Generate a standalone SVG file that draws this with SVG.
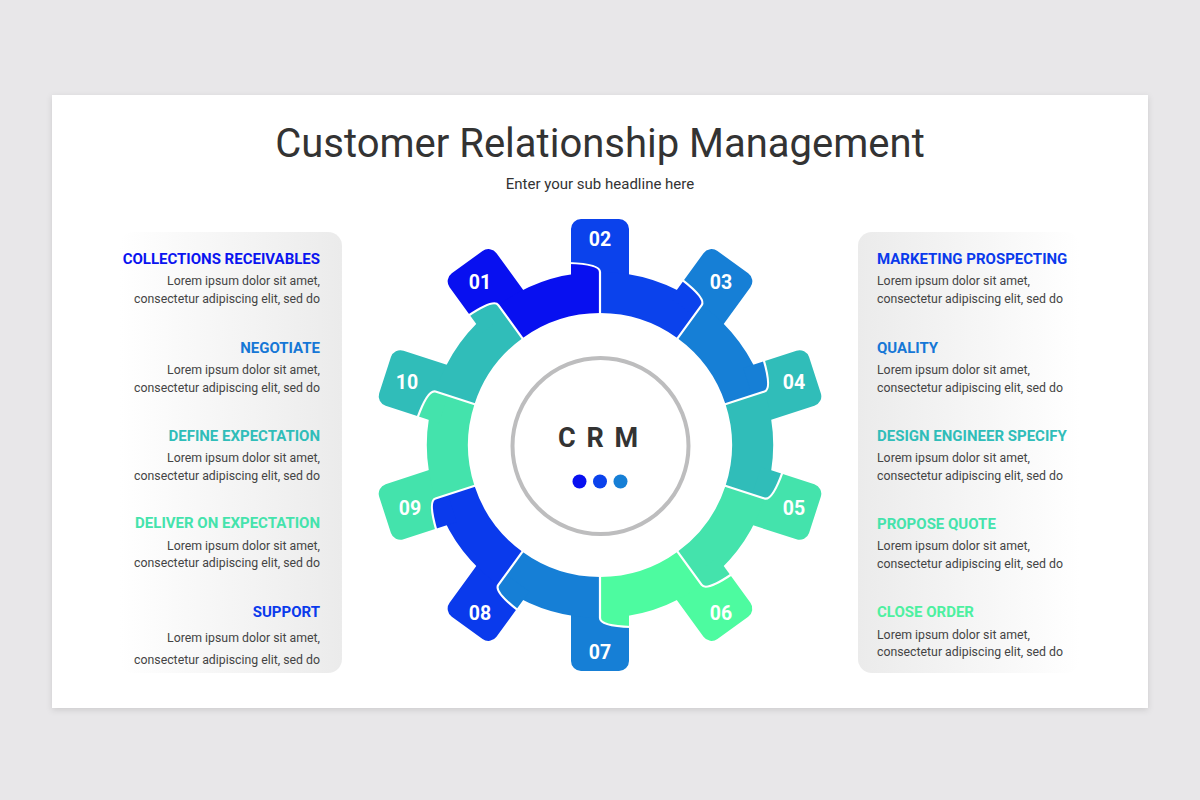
<svg xmlns="http://www.w3.org/2000/svg" xmlns:xlink="http://www.w3.org/1999/xlink" width="1200" height="800" viewBox="0 0 1200 800">
  <defs>
    <filter id="shadow" x="-5%" y="-5%" width="110%" height="115%">
      <feDropShadow dx="0" dy="2" stdDeviation="3" flood-color="#000" flood-opacity="0.12"/>
    </filter>
    <linearGradient id="gradL" x1="0" y1="0" x2="1" y2="0">
      <stop offset="0" stop-color="#ffffff"/>
      <stop offset="1" stop-color="#ebebeb"/>
    </linearGradient>
    <linearGradient id="gradR" x1="0" y1="0" x2="1" y2="0">
      <stop offset="0" stop-color="#ebebeb"/>
      <stop offset="1" stop-color="#ffffff"/>
    </linearGradient>
    <g id="piece">
      <path d="M0,-160 L0,-173 Q0,-181 -29,-182 L-29,-216 A10,10 0 0 1 -19,-226 L19,-226 A10,10 0 0 1 29,-216 L29,-160 Z"/>
      <path d="M0,-132 L0,-173 A173,173 0 0 1 101.69,-139.96 L77.59,-106.79 A132,132 0 0 0 0,-132 Z"/>
      <g transform="rotate(36)">
        <path d="M0,-160 L0,-173 Q0,-181 -29,-182 L-29,-160 Z"/>
      </g>
    </g>
    <path id="sep" d="M0,-130 L0,-173 Q0,-181 -31,-182" fill="none" stroke="#ffffff" stroke-width="2.2"/>
  </defs>
  <style>
    .title { font-family: Roboto, "Liberation Sans", sans-serif; font-size: 40px; fill: #333333; }
    .sub { font-family: Roboto, "Liberation Sans", sans-serif; font-size: 15px; fill: #333333; }
    .head { font-family: Roboto, "Liberation Sans", sans-serif; font-size: 15px; font-weight: bold; }
    .body { font-family: Roboto, "Liberation Sans", sans-serif; font-size: 12.3px; fill: #444444; }
    .num { font-family: Roboto, "Liberation Sans", sans-serif; font-size: 19.5px; font-weight: bold; fill: #ffffff; text-anchor: middle; }
    .left { text-anchor: end; }
    .c1 { fill: #0810f0; }
    .c2 { fill: #0b42ec; }
    .c3 { fill: #167fd6; }
    .c4 { fill: #30bdb9; }
    .c5 { fill: #44e3ac; }
    .c6 { fill: #4dfba0; }
    .c8 { fill: #0a3aec; }
  </style>

  <rect x="0" y="0" width="1200" height="800" fill="#e8e7e9"/>
  <rect x="52" y="95" width="1096" height="613" fill="#ffffff" filter="url(#shadow)"/>

  <text class="title" x="600" y="157" text-anchor="middle">Customer Relationship Management</text>
  <text class="sub" x="600" y="189" text-anchor="middle">Enter your sub headline here</text>

  <!-- side panels -->
  <rect x="120" y="232" width="222" height="441" rx="14" fill="url(#gradL)"/>
  <rect x="858" y="232" width="222" height="441" rx="14" fill="url(#gradR)"/>

  <!-- gear -->
  <g id="gear" transform="translate(600,445)">
    <g id="seg01"><use xlink:href="#piece" class="c1" transform="rotate(-36)"/></g>
    <g id="seg02"><use xlink:href="#piece" class="c2" transform="rotate(0)"/></g>
    <g id="seg03"><use xlink:href="#piece" class="c3" transform="rotate(36)"/></g>
    <g id="seg04"><use xlink:href="#piece" class="c4" transform="rotate(72)"/></g>
    <g id="seg05"><use xlink:href="#piece" class="c5" transform="rotate(108)"/></g>
    <g id="seg06"><use xlink:href="#piece" class="c6" transform="rotate(144)"/></g>
    <g id="seg07"><use xlink:href="#piece" class="c3" transform="rotate(180)"/></g>
    <g id="seg08"><use xlink:href="#piece" class="c8" transform="rotate(216)"/></g>
    <g id="seg09"><use xlink:href="#piece" class="c5" transform="rotate(252)"/></g>
    <g id="seg10"><use xlink:href="#piece" class="c4" transform="rotate(288)"/></g>
    <g id="separators">
      <use xlink:href="#sep" transform="rotate(-36)"/>
      <use xlink:href="#sep" transform="rotate(0)"/>
      <use xlink:href="#sep" transform="rotate(36)"/>
      <use xlink:href="#sep" transform="rotate(72)"/>
      <use xlink:href="#sep" transform="rotate(108)"/>
      <use xlink:href="#sep" transform="rotate(144)"/>
      <use xlink:href="#sep" transform="rotate(180)"/>
      <use xlink:href="#sep" transform="rotate(216)"/>
      <use xlink:href="#sep" transform="rotate(252)"/>
      <use xlink:href="#sep" transform="rotate(288)"/>
    </g>
  </g>

  <g id="numbers">
    <text class="num" x="480" y="289">01</text>
    <text class="num" x="600" y="246">02</text>
    <text class="num" x="721" y="289">03</text>
    <text class="num" x="794" y="389">04</text>
    <text class="num" x="794" y="515">05</text>
    <text class="num" x="721" y="620">06</text>
    <text class="num" x="600" y="659">07</text>
    <text class="num" x="480" y="620">08</text>
    <text class="num" x="410" y="515">09</text>
    <text class="num" x="407" y="389">10</text>
  </g>

  <!-- center -->
  <g id="center">
    <circle cx="600.5" cy="446" r="88" fill="#ffffff" stroke="#bdbdbe" stroke-width="4"/>
    <text x="558" y="447" font-family="Roboto, 'Liberation Sans', sans-serif" font-size="27" font-weight="bold" fill="#333333" letter-spacing="2">C R M</text>
    <circle cx="579.5" cy="481.5" r="7" fill="#0810f0"/>
    <circle cx="600" cy="481.5" r="7" fill="#0b42ec"/>
    <circle cx="620.5" cy="481.5" r="7" fill="#167fd6"/>
  </g>

  <!-- left texts -->
  <g id="left-1">
    <text class="head left" x="320" y="264" fill="#0a14f0">COLLECTIONS RECEIVABLES</text>
    <text class="body left" x="320" y="285">Lorem ipsum dolor sit amet,</text>
    <text class="body left" x="320" y="303">consectetur adipiscing elit, sed do</text>
  </g>
  <g id="left-2">
    <text class="head left" x="320" y="353" fill="#1677d6">NEGOTIATE</text>
    <text class="body left" x="320" y="374">Lorem ipsum dolor sit amet,</text>
    <text class="body left" x="320" y="392">consectetur adipiscing elit, sed do</text>
  </g>
  <g id="left-3">
    <text class="head left" x="320" y="441" fill="#30bdb9">DEFINE EXPECTATION</text>
    <text class="body left" x="320" y="462">Lorem ipsum dolor sit amet,</text>
    <text class="body left" x="320" y="480">consectetur adipiscing elit, sed do</text>
  </g>
  <g id="left-4">
    <text class="head left" x="320" y="528" fill="#44e3ac">DELIVER ON EXPECTATION</text>
    <text class="body left" x="320" y="550">Lorem ipsum dolor sit amet,</text>
    <text class="body left" x="320" y="567">consectetur adipiscing elit, sed do</text>
  </g>
  <g id="left-5">
    <text class="head left" x="320" y="617" fill="#0a3aec">SUPPORT</text>
    <text class="body left" x="320" y="642">Lorem ipsum dolor sit amet,</text>
    <text class="body left" x="320" y="664">consectetur adipiscing elit, sed do</text>
  </g>

  <!-- right texts -->
  <g id="right-1">
    <text class="head" x="877" y="264" fill="#0a3aec">MARKETING PROSPECTING</text>
    <text class="body" x="877" y="285">Lorem ipsum dolor sit amet,</text>
    <text class="body" x="877" y="303">consectetur adipiscing elit, sed do</text>
  </g>
  <g id="right-2">
    <text class="head" x="877" y="353" fill="#1677d6">QUALITY</text>
    <text class="body" x="877" y="374">Lorem ipsum dolor sit amet,</text>
    <text class="body" x="877" y="392">consectetur adipiscing elit, sed do</text>
  </g>
  <g id="right-3">
    <text class="head" x="877" y="441" fill="#30bdb9">DESIGN ENGINEER SPECIFY</text>
    <text class="body" x="877" y="462">Lorem ipsum dolor sit amet,</text>
    <text class="body" x="877" y="480">consectetur adipiscing elit, sed do</text>
  </g>
  <g id="right-4">
    <text class="head" x="877" y="529" fill="#44e3ac">PROPOSE QUOTE</text>
    <text class="body" x="877" y="550">Lorem ipsum dolor sit amet,</text>
    <text class="body" x="877" y="568">consectetur adipiscing elit, sed do</text>
  </g>
  <g id="right-5">
    <text class="head" x="877" y="617" fill="#4df0a0">CLOSE ORDER</text>
    <text class="body" x="877" y="639">Lorem ipsum dolor sit amet,</text>
    <text class="body" x="877" y="656">consectetur adipiscing elit, sed do</text>
  </g>
</svg>
